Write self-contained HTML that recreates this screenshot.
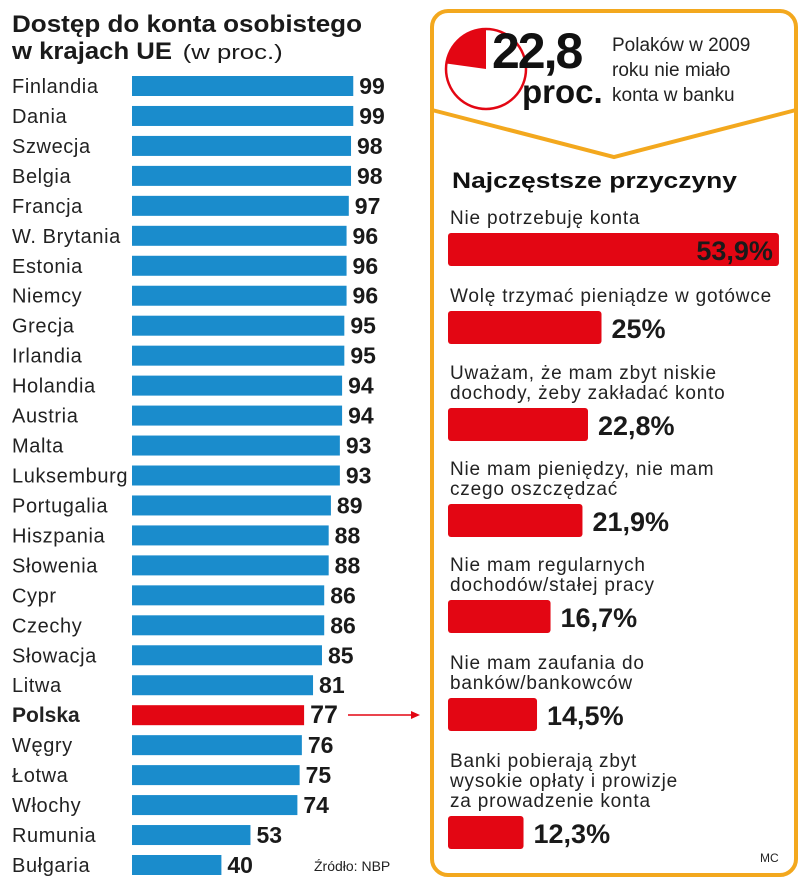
<!DOCTYPE html>
<html><head><meta charset="utf-8"><style>
html,body{margin:0;padding:0;background:#fff;}
svg{display:block;font-family:"Liberation Sans",sans-serif;}
</style></head><body>
<svg id="chart" width="805" height="885" viewBox="0 0 805 885">
<text x="12" y="32" font-size="24" font-weight="bold" fill="#1a1a1a" textLength="350" lengthAdjust="spacingAndGlyphs">Dostęp do konta osobistego</text>
<text x="12" y="59" font-size="24" font-weight="bold" fill="#1a1a1a"><tspan textLength="160" lengthAdjust="spacingAndGlyphs">w krajach UE</tspan> <tspan font-weight="normal" font-size="20" dx="4" textLength="100" lengthAdjust="spacingAndGlyphs">(w proc.)</tspan></text>
<g id="left"></g>
<text x="314" y="871" font-size="14" fill="#222">Źródło: NBP</text>
<line x1="348" y1="715" x2="416" y2="715" stroke="#e30613" stroke-width="1.5"/>
<polygon points="420,715 411,711 411,719" fill="#e30613"/>
<rect x="432" y="11" width="364" height="864" rx="16" fill="none" stroke="#f3a81e" stroke-width="4"/>
<polyline points="432,110 614,157 796,110" fill="none" stroke="#f3a81e" stroke-width="4"/>
<circle cx="486" cy="69" r="40" fill="#fff" stroke="#e30613" stroke-width="2.5"/>
<path id="pieslice" fill="#e30613"/>
<text x="492" y="68" font-size="50" font-weight="bold" fill="#111" letter-spacing="-2">22,8</text>
<text x="522" y="103" font-size="33" font-weight="bold" fill="#111">proc.</text>
<text x="612" y="51" font-size="19" fill="#222">Polaków w 2009</text>
<text x="612" y="76" font-size="19" fill="#222">roku nie miało</text>
<text x="612" y="101" font-size="19" fill="#222">konta w banku</text>
<text x="452" y="188" font-size="22" font-weight="bold" fill="#111" textLength="285" lengthAdjust="spacingAndGlyphs">Najczęstsze przyczyny</text>
<g id="right"></g>
<text x="760" y="862" font-size="12" fill="#222">MC</text>
</svg>
<script>
const countries=["Finlandia","Dania","Szwecja","Belgia","Francja","W. Brytania","Estonia","Niemcy","Grecja","Irlandia","Holandia","Austria","Malta","Luksemburg","Portugalia","Hiszpania","Słowenia","Cypr","Czechy","Słowacja","Litwa","Polska","Węgry","Łotwa","Włochy","Rumunia","Bułgaria"];
const values=[99,99,98,98,97,96,96,96,95,95,94,94,93,93,89,88,88,86,86,85,81,77,76,75,74,53,40];
const reasons=[["Nie potrzebuję konta"],["Wolę trzymać pieniądze w gotówce"],["Uważam, że mam zbyt niskie","dochody, żeby zakładać konto"],["Nie mam pieniędzy, nie mam","czego oszczędzać"],["Nie mam regularnych","dochodów/stałej pracy"],["Nie mam zaufania do","banków/bankowców"],["Banki pobierają zbyt","wysokie opłaty i prowizje","za prowadzenie konta"]];
const reasonValues=[53.9,25,22.8,21.9,16.7,14.5,12.3];
const reasonLabels=["53,9%","25%","22,8%","21,9%","16,7%","14,5%","12,3%"];
const pieValue=22.8;
const NS="http://www.w3.org/2000/svg";
function mk(t,a,p){const e=document.createElementNS(NS,t);for(const k in a)e.setAttribute(k,a[k]);p.appendChild(e);return e;}
const xL=v=>132+v*2.235, yL=i=>86+i*(779/26);
const L=document.getElementById('left');
countries.forEach((c,i)=>{
 const y=yL(i), pl=c==="Polska";
 const t=mk('text',{x:12,y:y+7,'font-size':pl?21:20,'font-weight':pl?'bold':'normal','letter-spacing':pl?0:0.6,fill:'#222'},L);t.textContent=c;
 
 
 const r=mk('rect',{x:132,y:y-10,width:xL(values[i])-132,height:20,fill:pl?'#e30613':'#1a8ccc'},L);
 
 
 const v=mk('text',{x:xL(values[i])+6,y:y+8,'font-size':pl?25:23,'font-weight':'bold',fill:'#1a1a1a'},L);v.textContent=values[i];
 
 
});
const a=2*Math.PI*pieValue/100, cx=486, cy=69, R=40;
document.getElementById('pieslice').setAttribute('d',`M${cx},${cy} L${cx},${cy-R} A${R},${R} 0 0 0 ${cx-R*Math.sin(a)},${cy-R*Math.cos(a)} Z`);
const xR=v=>448+v*6.14;
const barTops=[233,311,408,504,600,698,816];
const Rg=document.getElementById('right');
reasons.forEach((lines,i)=>{
 const top=barTops[i];
 lines.forEach((ln,j)=>{const t=mk('text',{x:450,y:top-9-(lines.length-1-j)*20,'font-size':19,'letter-spacing':0.8,fill:'#222'},Rg);t.textContent=ln;
  
  });
 const r=mk('rect',{x:448,y:top,width:xR(reasonValues[i])-448,height:33,rx:3,fill:'#e30613'},Rg);
 
 
 const inside=i===0;
 const v=mk('text',{x:inside?xR(reasonValues[i])-6:xR(reasonValues[i])+10,y:top+27,'font-size':27,'font-weight':'bold',fill:'#1a1a1a','text-anchor':inside?'end':'start'},Rg);
 v.textContent=reasonLabels[i];
 
 
});
</script>
</body></html>
